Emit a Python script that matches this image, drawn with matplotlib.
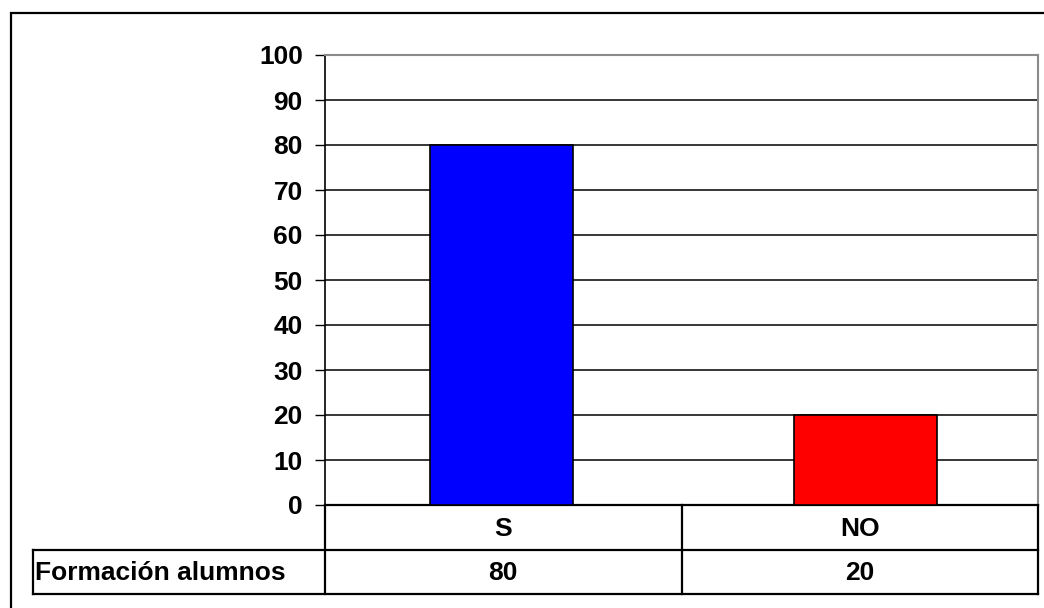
import matplotlib.pyplot as plt
from matplotlib.patches import Rectangle

plt.rcParams['font.family'] = ['Liberation Sans', 'DejaVu Sans']
plt.rcParams['font.weight'] = 'bold'

categorias = ['S', 'NO']
valores = [80, 20]
colores = ['#0000FF', '#FF0000']
etiqueta_fila = 'Formación alumnos'
ticks_y = list(range(0, 101, 10))

W, H = 1044, 608
fs = 19
fig = plt.figure(figsize=(W / 100, H / 100), dpi=100)

# marco exterior (cortado a la derecha y abajo)
fig.add_artist(Rectangle((11 / W, -0.2), 1.2, 1.2 - 13 / H, transform=fig.transFigure,
                         fill=False, edgecolor='black', linewidth=1.6))

x0, x1, y0, y1 = 325, 1038, 505, 55
ax = fig.add_axes([x0 / W, 1 - y0 / H, (x1 - x0) / W, (y0 - y1) / H])

pos = list(range(len(categorias)))
ax.bar(pos, valores, width=0.393, color=colores, edgecolor='black', linewidth=1.2, zorder=3)
ax.set_xlim(-0.485, 1.474)
ax.set_ylim(0, 100)
ax.set_yticks(ticks_y)
ax.set_yticklabels([str(t) for t in ticks_y], fontsize=fs, fontweight='bold')
ax.set_xticks([])
ax.yaxis.grid(True, color='black', linewidth=1.1, zorder=0)
ax.tick_params(axis='y', length=7, width=1, pad=9)
ax.spines['top'].set_color('#8a8a8a')
ax.spines['right'].set_color('#8a8a8a')
ax.spines['top'].set_linewidth(1.5)
ax.spines['right'].set_linewidth(1.5)
ax.spines['left'].set_linewidth(1.2)
ax.spines['bottom'].set_linewidth(1.6)

# tabla de datos bajo el gráfico
pw, ph = x1 - x0, y0 - y1
ya = -(550 - y0) / ph
yb = -(594 - y0) / ph
xl = (33 - x0) / pw
n = len(categorias)
kw = dict(transform=ax.transAxes, color='black', linewidth=1.6, clip_on=False)
ax.plot([xl, 1.0], [ya, ya], **kw)
ax.plot([xl, 1.0], [yb, yb], **kw)
ax.plot([xl, xl], [ya, yb], **kw)
for i in range(n + 1):
    ax.plot([i / n, i / n], [0, yb], **kw)
for i, (c, v) in enumerate(zip(categorias, valores)):
    xc = (i + 0.5) / n
    ax.text(xc, ya / 2 - 0.004, c, transform=ax.transAxes, ha='center', va='center',
            fontsize=fs, fontweight='bold')
    ax.text(xc, (ya + yb) / 2 - 0.002, str(v), transform=ax.transAxes, ha='center', va='center',
            fontsize=fs, fontweight='bold')
ax.text(xl + 2 / pw, (ya + yb) / 2 - 0.002, etiqueta_fila, transform=ax.transAxes, ha='left',
        va='center', fontsize=fs, fontweight='bold')

fig.savefig('out.png', dpi=100)
